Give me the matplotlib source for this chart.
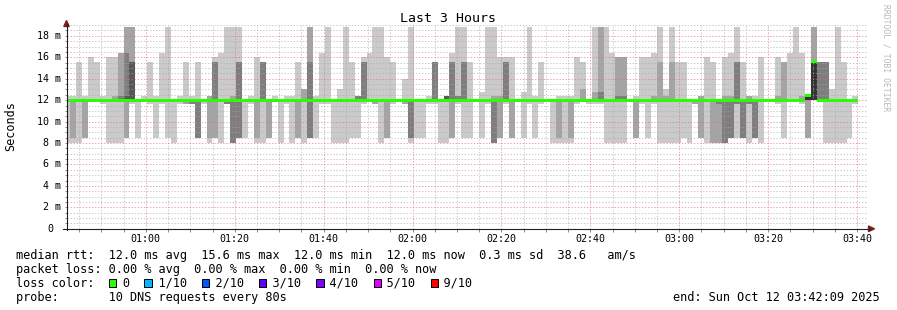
import matplotlib
matplotlib.use("Agg")
import matplotlib.pyplot as plt
from matplotlib.patches import Polygon, Rectangle
from matplotlib.lines import Line2D
from matplotlib.ticker import MultipleLocator, FuncFormatter, NullFormatter
import numpy as np

W, H = 897, 310
MONO = "DejaVu Sans Mono"
plt.rcParams["lines.scale_dashes"] = False

# one entry per 80 s step, first step starts 00:41:39 (partly off the left edge)
step_minutes = 80 / 60
first_step = 41 + 39 / 60
view_start = 42 + 9 / 60          # 00:42:09
view_end = 222 + 9 / 60           # 03:42:09
rtt_typical = 12.0                # most of the 10 pings sit on 12.0 ms

# pings above 12.0 ms in each step (highest first)
rtt_above = [
    (12.4,), (12.4,), (15.6,), (12.4,), (16.0,), (15.6,), (12.4,), (16.0,), (16.0, 12.4), (16.4, 16.4, 12.4),
    (18.8, 18.8, 16.4, 12.4), (18.8, 18.8, 15.6, 15.6), (), (12.4,), (15.6,), (12.4,), (16.4,), (18.8,), (), (12.4,),
    (15.6,), (12.4,), (15.6,), (), (12.4, 12.4), (16.0, 15.6, 15.6), (16.4,), (18.8,), (18.8, 12.4), (18.8, 15.6, 15.6),
    (), (12.4,), (16.0,), (15.6, 15.6, 15.6), (), (12.4,), (), (12.4,), (12.4,), (15.6,),
    (13.0, 13.0), (18.8, 18.8, 15.6), (12.4,), (16.4,), (18.8,), (), (13.0,), (18.8,), (15.6,), (12.4, 12.4, 12.4),
    (16.0, 15.6, 15.6), (16.4,), (18.8,), (18.8,), (16.0,), (15.6,), (), (14.0,), (18.8,), (),
    (), (12.4,), (15.6, 15.6, 15.6), (), (12.4, 12.4, 12.4, 12.4), (16.4, 15.6, 15.6), (18.8, 12.4, 12.4), (18.8, 15.6, 15.6), (15.6,), (),
    (12.8,), (18.8,), (18.8, 12.4), (16.0, 12.4), (16.0, 15.6, 15.6), (16.0,), (), (12.8,), (18.8,), (12.4,),
    (15.6,), (), (), (12.4,), (12.4,), (12.4,), (16.0,), (15.6, 13.0), (), (18.8, 12.8),
    (18.8, 18.8, 12.8), (18.8,), (16.4,), (16.0, 16.0, 12.4), (16.0, 16.0, 12.4), (), (12.4,), (16.0,), (16.0,), (16.4, 12.4),
    (18.8, 15.6), (13.0, 12.4), (18.8, 15.6), (15.6,), (15.6,), (), (), (12.4, 12.4), (16.0,), (15.6,),
    (), (16.0, 12.4), (16.4, 12.4), (18.8, 15.6, 15.6), (15.6,), (12.4, 12.4), (12.4,), (16.0,), (), (),
    (16.0, 12.4), (15.6, 15.6), (16.4,), (18.8,), (16.4, 12.4), (12.4, 12.4, 12.4, 12.4, 12.4), (18.8, 18.8, 15.6, 15.6, 15.6), (15.6, 15.6, 15.6), (15.6, 15.6, 15.6), (13.0,),
    (18.8,), (15.6,), (), (12.4,),
]

# pings below 12.0 ms in each step (lowest first)
rtt_below = [
    (8.0,), (8.0, 8.5), (8.0,), (8.5, 8.5), (), (), (11.6,), (8.0,), (8.0,), (8.0,),
    (8.5, 8.5), (11.6,), (8.5,), (), (11.6,), (8.5,), (11.6,), (8.5,), (8.0,), (11.6,),
    (11.6, 11.6), (11.6, 11.6, 11.6), (8.5, 8.5, 8.5), (11.6,), (8.0, 8.5), (8.5, 8.5), (8.0,), (11.6, 11.6, 11.6), (8.0, 8.0, 8.0), (8.5, 8.5, 8.5),
    (8.5,), (11.6,), (8.0, 8.5), (8.0,), (8.5, 8.5), (), (8.0,), (11.6,), (8.0,), (8.5, 8.5),
    (8.0,), (8.5, 8.5, 8.5), (8.5,), (11.6,), (11.6,), (8.0,), (8.0,), (8.0,), (8.5,), (8.5,),
    (11.6,), (), (11.6, 11.6), (8.0,), (8.5, 8.5), (11.6,), (), (11.6, 11.6), (8.0, 8.5, 8.5), (8.5,),
    (8.5,), (11.6,), (11.6,), (8.0,), (8.0,), (8.5, 8.5), (11.6,), (8.5,), (8.5,), (),
    (8.5,), (11.6,), (8.0, 8.0, 8.0), (8.5, 8.5), (11.6,), (8.5, 8.5), (), (8.5,), (11.6,), (8.5,),
    (11.6,), (), (8.0,), (8.0, 8.5), (8.0,), (8.0, 8.5), (11.6,), (), (11.6,), (11.6,),
    (11.6,), (8.0,), (8.0,), (8.0,), (8.0,), (), (8.5, 8.5), (11.6,), (8.5,), (11.6,),
    (8.0,), (8.0,), (8.0,), (8.0,), (8.5,), (8.0,), (11.6, 11.6), (8.5, 8.5), (8.0,), (8.0, 8.0),
    (8.0, 8.0, 11.6), (8.0, 8.0, 8.0), (8.5, 8.5, 8.5), (8.5, 11.6, 11.6), (8.5, 8.5, 8.5), (8.0, 11.6, 11.6), (8.5, 8.5, 8.5), (8.0,), (), (),
    (11.6,), (8.5,), (), (), (11.6,), (8.5, 8.5), (), (), (8.0,), (8.0,),
    (8.0,), (8.0,), (8.5,), (11.6,),
]

median_rtt = [
    12.0, 12.0, 12.0, 12.0, 12.0, 12.0, 12.0, 12.0, 12.0, 12.0, 12.0, 12.0, 12.0, 12.0, 12.0, 12.0, 12.0, 12.0, 12.0, 12.0,
    12.0, 12.0, 12.0, 12.0, 12.0, 12.0, 12.0, 12.0, 12.0, 12.0, 12.0, 12.0, 12.0, 12.0, 12.0, 12.0, 12.0, 12.0, 12.0, 12.0,
    12.0, 12.0, 12.0, 12.0, 12.0, 12.0, 12.0, 12.0, 12.0, 12.0, 12.0, 12.0, 12.0, 12.0, 12.0, 12.0, 12.0, 12.0, 12.0, 12.0,
    12.0, 12.0, 12.0, 12.0, 12.0, 12.0, 12.0, 12.0, 12.0, 12.0, 12.0, 12.0, 12.0, 12.0, 12.0, 12.0, 12.0, 12.0, 12.0, 12.0,
    12.0, 12.0, 12.0, 12.0, 12.0, 12.0, 12.0, 12.0, 12.0, 12.0, 12.0, 12.0, 12.0, 12.0, 12.0, 12.0, 12.0, 12.0, 12.0, 12.0,
    12.0, 12.0, 12.0, 12.0, 12.0, 12.0, 12.0, 12.0, 12.0, 12.0, 12.0, 12.0, 12.0, 12.0, 12.0, 12.0, 12.0, 12.0, 12.0, 12.0,
    12.0, 12.0, 12.0, 12.0, 12.0, 12.4, 15.6, 12.0, 12.0, 12.0, 12.0, 12.0, 12.0, 12.0,
]

stats_line = "median rtt:  12.0 ms avg  15.6 ms max  12.0 ms min  12.0 ms now  0.3 ms sd  38.6   am/s"
loss_line = "packet loss: 0.00 % avg  0.00 % max  0.00 % min  0.00 % now"
loss_labels = ["0", "1/10", "2/10", "3/10", "4/10", "5/10", "9/10"]
loss_colors = ["#26ff00", "#00b8ff", "#0059ff", "#5e00ff", "#7e00ff", "#dd00ff", "#ff0000"]
probe_line = "probe:       10 DNS requests every 80s"
end_line = "end: Sun Oct 12 03:42:09 2025"


def fig_xy(x, y):
    # pixel position (from top-left) -> figure fraction
    return x / W, 1 - y / H


# build the sorted 10 pings for every step
pings = []
for hi, lo in zip(rtt_above, rtt_below):
    mid = [rtt_typical] * (10 - len(hi) - len(lo))
    pings.append(sorted(list(lo) + mid + list(hi)))
pings = np.array(pings)
t_edges = first_step + np.arange(len(pings) + 1) * step_minutes

fig = plt.figure(figsize=(W / 100, H / 100), dpi=100)
fig.patch.set_facecolor("white")
ax = fig.add_axes([66.5 / W, 1 - 228.8 / H, 800 / W, 203.7 / H])
ax.set_xlim(view_start, view_end)
ax.set_ylim(0, 19)
for s in ax.spines.values():
    s.set_visible(False)

# smoke: pair (1,10) lightest ... pair (5,6) darkest, like smokeping
half = 5
for ibot in range(1, 6):
    shade = int(190 / half * (half - ibot)) + 50
    col = "#%02x%02x%02x" % (shade, shade, shade)
    lo = pings[:, ibot - 1]
    hi = pings[:, 10 - ibot]
    ax.fill_between(t_edges, np.append(lo, lo[-1]), np.append(hi, hi[-1]), step="post",
                    color=col, linewidth=0, antialiased=False, zorder=1)

# median as a thin green band
med = np.array(median_rtt)
med = np.append(med, med[-1])
ax.fill_between(t_edges, med - 0.13, med + 0.13, step="post", color=loss_colors[0],
                linewidth=0, antialiased=False, zorder=4)

# dotted grid
ax.xaxis.set_major_locator(MultipleLocator(20))
ax.xaxis.set_minor_locator(MultipleLocator(5))
ax.yaxis.set_major_locator(MultipleLocator(2))
ax.yaxis.set_minor_locator(MultipleLocator(0.5))
ax.set_axisbelow(False)
dots = (0, (1.0, 1.2))
ax.grid(which="minor", color="#a8a8a8", linestyle=dots, linewidth=0.6, alpha=0.7)
ax.grid(which="major", color="#e86a6a", linestyle=dots, linewidth=0.6, alpha=0.7)

ax.xaxis.set_major_formatter(FuncFormatter(lambda v, p: "%02d:%02d" % (int(v) // 60, int(v) % 60)))
ax.yaxis.set_major_formatter(NullFormatter())
ax.tick_params(which="both", direction="out", length=1.8, width=0.72, color="#8f8f8f")
ax.tick_params(axis="x", which="major", labelsize=7.2, pad=1.8)
for lab in ax.get_xticklabels():
    lab.set_family(MONO)

for v in range(0, 19, 2):
    label = "%d m" % v if v else "0"
    off = -6 / 800 if v else -13 / 800
    ax.text(off, v, label, transform=ax.get_yaxis_transform(), ha="right", va="center",
            fontsize=7.2, family=MONO)

# axis lines and arrows
fig.add_artist(Line2D(*zip(fig_xy(66.5, 229.5), fig_xy(66.5, 24)), color="#1f1f1f", lw=0.8))
fig.add_artist(Line2D(*zip(fig_xy(63, 228.8), fig_xy(870, 228.8)), color="#1f1f1f", lw=0.8))
fig.add_artist(Polygon([fig_xy(63.8, 26.5), fig_xy(69.2, 26.5), fig_xy(66.5, 20.5)],
                       closed=True, color="#7f1f1f", transform=fig.transFigure))
fig.add_artist(Polygon([fig_xy(868.5, 226), fig_xy(868.5, 231.6), fig_xy(874.5, 228.8)],
                       closed=True, color="#7f1f1f", transform=fig.transFigure))

# texts
fig.text(*fig_xy(448, 19), "Last 3 Hours", ha="center", va="center", fontsize=9.5, family=MONO)
fig.text(*fig_xy(11, 126), "Seconds", rotation=90, ha="center", va="center", fontsize=8.5, family=MONO)
fig.text(*fig_xy(886, 4), "RRDTOOL / TOBI OETIKER", rotation=270, ha="center", va="top",
         fontsize=5.8, family=MONO, color="#b8b8b8")

cw = 7.165
x0 = 16
fig.text(*fig_xy(x0, 258.8), stats_line, fontsize=8.57, family=MONO, va="baseline")
fig.text(*fig_xy(x0, 272.6), loss_line, fontsize=8.57, family=MONO, va="baseline")
color_line = "loss color:  "
box_idx = []
for lab in loss_labels:
    box_idx.append(len(color_line))
    color_line += "  " + lab + "  "
fig.text(*fig_xy(x0, 286.6), color_line.rstrip(), fontsize=8.57, family=MONO, va="baseline")
for i, c in zip(box_idx, loss_colors):
    bx, by = fig_xy(x0 + i * cw - 0.5, 286.7)
    fig.add_artist(Rectangle((bx, by), 7.3 / W, 7.3 / H, facecolor=c, edgecolor="black",
                             linewidth=0.72, transform=fig.transFigure))
fig.text(*fig_xy(x0, 300.6), probe_line, fontsize=8.57, family=MONO, va="baseline")
fig.text(*fig_xy(880, 300.6), end_line, fontsize=8.57, family=MONO, va="baseline", ha="right")

fig.savefig("out.png", dpi=100, facecolor="white")
